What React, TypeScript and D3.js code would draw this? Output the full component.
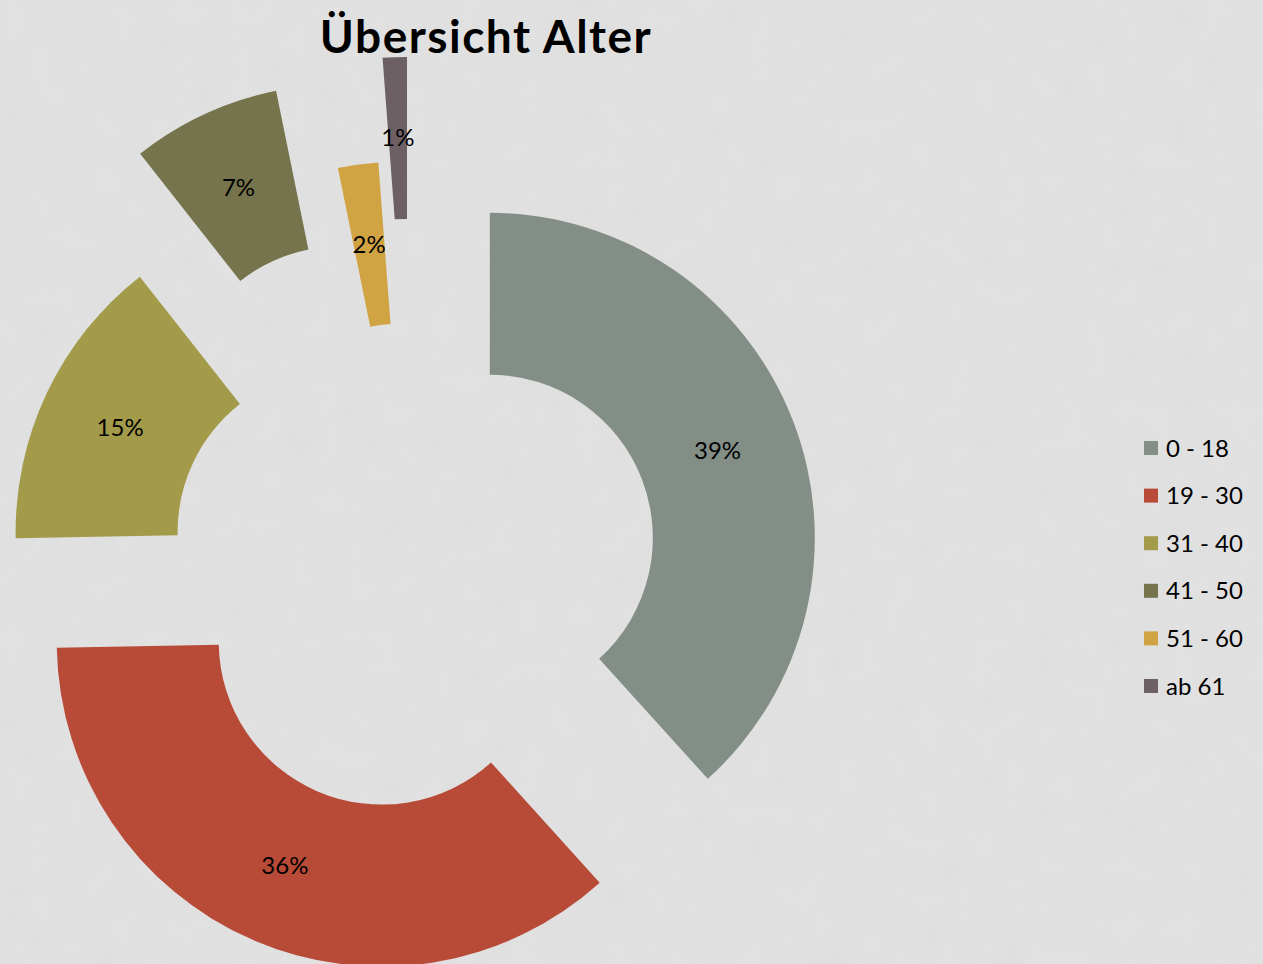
import React from "react";
import * as d3 from "d3";

// Altersgruppen und ihre Anteile (Winkel)
const ageGroups = ["0 - 18", "19 - 30", "31 - 40", "41 - 50", "51 - 60", "ab 61"];
const shares = [38.3, 36.4, 14.7, 7.4, 2.0, 1.2];
const shareLabels = ["39%", "36%", "15%", "7%", "2%", "1%"];

const sliceColors = ["#838f86", "#b84b37", "#a39b4a", "#76744c", "#d0a343", "#6d6064"];
// explosion of each slice, as a fraction of the outer radius
const explode = [0.25, 0.25, 0.25, 0.535, 0.25, 0.57];

const width = 1263;
const height = 964;
const cx = 414;
const cy = 567;
const outerR = 325;
const innerR = 163;

const labelFont = "Lato, 'DejaVu Sans', sans-serif";

const App = () => {
  const pie = d3
    .pie<number>()
    .sort(null)
    .value((d) => d)
    .startAngle(0)
    .endAngle(2 * Math.PI);
  const arcs = pie(shares);

  const arc = d3
    .arc<d3.PieArcDatum<number>>()
    .innerRadius(innerR)
    .outerRadius(outerR);

  const legendY = d3.scalePoint<string>().domain(ageGroups).range([448, 686]);

  return (
    <svg
      width={width}
      height={height}
      style={{ position: "fixed", left: 0, top: 0, background: "#e1e1e1" }}
    >
      <defs>
        <filter id="paper" x="0" y="0" width="100%" height="100%">
          <feTurbulence type="fractalNoise" baseFrequency="0.035" numOctaves={3} seed={4} />
          <feColorMatrix
            type="matrix"
            values="0 0 0 0 0.5  0 0 0 0 0.5  0 0 0 0 0.5  0 0 0 0.09 0"
          />
        </filter>
      </defs>
      <rect width={width} height={height} fill="#e2e2e2" />
      <rect width={width} height={height} filter="url(#paper)" />
      <text
        x={486}
        y={53}
        textAnchor="middle"
        fontFamily="Lato, 'Liberation Sans', sans-serif"
        fontWeight="bold"
        fontSize={46}
        letterSpacing={1.5}
        fill="#000"
      >
        Übersicht Alter
      </text>

      <g transform={`translate(${cx},${cy})`}>
        {arcs.map((a, i) => {
          const mid = (a.startAngle + a.endAngle) / 2;
          const off = explode[i] * outerR;
          const dx = Math.sin(mid) * off;
          const dy = -Math.cos(mid) * off;
          const [lx, ly] = arc.centroid(a);
          return (
            <g key={ageGroups[i]} transform={`translate(${dx},${dy})`}>
              <path d={arc(a) || ""} fill={sliceColors[i]} />
              <text
                x={lx}
                y={ly}
                dy="0.35em"
                textAnchor="middle"
                fontFamily={labelFont}
                fontSize={24}
                fill="#000"
              >
                {shareLabels[i]}
              </text>
            </g>
          );
        })}
      </g>

      <g>
        {ageGroups.map((g, i) => (
          <g key={g} transform={`translate(1144,${legendY(g)})`}>
            <rect x={0} y={-7} width={14} height={14} fill={sliceColors[i]} />
            <text
              x={22}
              y={0}
              dy="0.36em"
              fontFamily={labelFont}
              fontSize={24}
              fill="#000"
            >
              {g}
            </text>
          </g>
        ))}
      </g>
    </svg>
  );
};

export default App;
